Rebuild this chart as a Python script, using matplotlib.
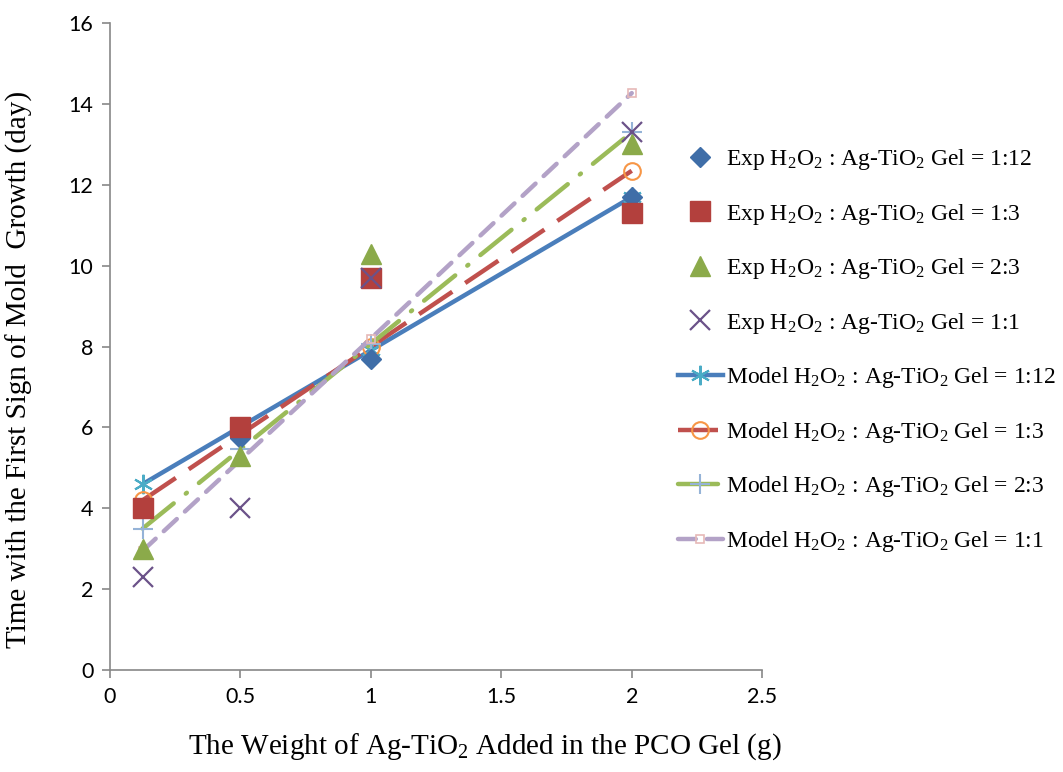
import matplotlib
matplotlib.use("Agg")
import matplotlib.pyplot as plt

plt.rcParams['font.family'] = ['Liberation Serif', 'DejaVu Serif']
plt.rcParams['mathtext.fontset'] = 'custom'
plt.rcParams['mathtext.rm'] = 'Liberation Serif'
plt.rcParams['mathtext.it'] = 'Liberation Serif:italic'

x = [0.125, 0.5, 1, 2]
ratios = ["1:12", "1:3", "2:3", "1:1"]

# experimental points
exp_112 = [4.0, 5.75, 7.7, 11.7]
exp_13 = [4.0, 6.0, 9.7, 11.3]
exp_23 = [3.0, 5.3, 10.3, 13.0]
exp_11 = [2.3, 4.0, 9.7, 13.3]

# model (linear fits)
mod_112 = [4.6, 6.02, 7.91, 11.7]
mod_13 = [4.2, 5.83, 8.0, 12.35]
mod_23 = [3.5, 5.46, 8.07, 13.3]
mod_11 = [2.95, 5.2, 8.2, 14.27]

fig = plt.figure(figsize=(10.63, 7.72), dpi=100)
ax = fig.add_axes([0.1035, 0.132, 0.6135, 0.838])

lbl = r"%s H$_2$O$_2$ : Ag-TiO$_2$ Gel = %s"

ax.plot(x, exp_112, ls='none', marker='D', ms=10, color='#3F6EA8', label=lbl % ("Exp", ratios[0]), zorder=5)
ax.plot(x, exp_13, ls='none', marker='s', ms=15, color='#B3403D', label=lbl % ("Exp", ratios[1]), zorder=5)
ax.plot(x, exp_23, ls='none', marker='^', ms=15, color='#8BAA4A', label=lbl % ("Exp", ratios[2]), zorder=5)
ax.plot(x, exp_11, ls='none', marker='x', ms=14, mew=1.6, color='#6B5289', label=lbl % ("Exp", ratios[3]), zorder=5)

ax.plot(x, mod_112, color='#4A7EBB', lw=3.2, marker=(6, 2, 0), ms=14, mew=1.5,
        mec='#4BACC6', label=lbl % ("Model", ratios[0]), zorder=3)
ax.plot(x, mod_13, color='#C0504D', lw=3.2, dashes=(9, 3.5), marker='o', ms=12, mew=1.5,
        mfc='none', mec='#F79646', label=lbl % ("Model", ratios[1]), zorder=3)
ax.plot(x, mod_23, color='#9BBB59', lw=3.2, dashes=(9, 3.5, 0.3, 3.5), dash_capstyle='round', marker='+', ms=14, mew=1.5,
        mec='#95B3D7', label=lbl % ("Model", ratios[2]), zorder=3)
ax.plot(x, mod_11, color='#B3A2C7', lw=3.2, dashes=(4, 2.5), dash_capstyle='round', marker='s', ms=6, mew=1.2,
        mfc='none', mec='#E6B9B8', label=lbl % ("Model", ratios[3]), zorder=3)

ax.set_xlim(0, 2.5)
ax.set_ylim(0, 16)
ax.set_xticks([0, 0.5, 1, 1.5, 2, 2.5])
ax.set_xticklabels(['0', '0.5', '1', '1.5', '2', '2.5'])
ax.set_yticks(range(0, 17, 2))
for s in ['top', 'right']:
    ax.spines[s].set_visible(False)
for s in ['left', 'bottom']:
    ax.spines[s].set_color('#888888')
    ax.spines[s].set_linewidth(1.2)
ax.tick_params(color='#888888', length=6, width=1.2, labelsize=15.5, pad=6)
for t in ax.get_xticklabels() + ax.get_yticklabels():
    t.set_family(['Lato', 'DejaVu Sans'])

ax.set_xlabel(r"The Weight of Ag-TiO$_2$ Added in the PCO Gel (g)", fontsize=21)
ax.set_ylabel("Time with the First Sign of Mold  Growth (day)", fontsize=21)
ax.xaxis.set_label_coords(0.574, -0.094)
ax.yaxis.set_label_coords(-0.118, 0.464)

leg = ax.legend(loc='center left', bbox_to_anchor=(0.856, 0.494), frameon=False, fontsize=17,
                labelspacing=1.25, handlelength=1.9, handletextpad=0.15, borderaxespad=0)

fig.savefig("out.png", dpi=100)
